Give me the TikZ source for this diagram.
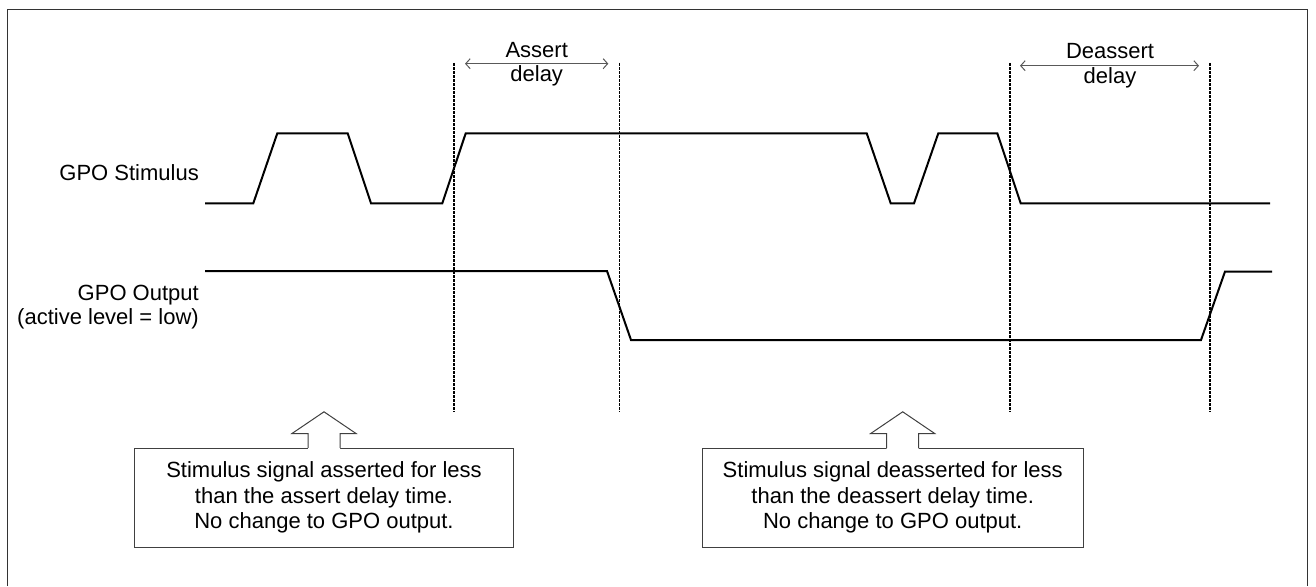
\documentclass[tikz,border=0pt]{standalone}
\usepackage{fontspec}
\setmainfont{Liberation Sans}
\usetikzlibrary{arrows.meta,calc}
\newcommand\calloutarrow[1]{%
  \path[fill=white] ($(#1)+(-16,1.2)$) -- ($(#1)+(-16,-14.3)$) -- ($(#1)+(-32,-14.3)$) -- ($(#1)+(0,-36)$) -- ($(#1)+(32,-14.3)$) -- ($(#1)+(16,-14.3)$) -- ($(#1)+(16,1.2)$) -- cycle;
  \draw[callout] ($(#1)+(-16,0)$) -- ($(#1)+(-16,-14.3)$) -- ($(#1)+(-32,-14.3)$) -- ($(#1)+(0,-36)$) -- ($(#1)+(32,-14.3)$) -- ($(#1)+(16,-14.3)$) -- ($(#1)+(16,0)$);}
\begin{document}
\begin{tikzpicture}[x=1pt,y=-1pt,
  sig/.style={line width=2pt, line join=miter},
  guide/.style={line width=1.2pt, dash pattern=on 3pt off 1pt},
  dim/.style={line width=1pt, draw=black!65, {Straight Barb[length=4.5pt,width=10pt]}-{Straight Barb[length=4.5pt,width=10pt]}},
  lbl/.style={font=\fontsize{22}{25.5}\selectfont, inner sep=0pt},
  note/.style={draw=black!75, line width=1pt, fill=white, minimum height=99pt, align=center, inner sep=0pt, font=\fontsize{22}{25.5}\selectfont},
  callout/.style={draw=black!75, line width=1pt, line join=miter}
]
\useasboundingbox (0,0) rectangle (1316,586);
% frame
\draw[black!80, line width=1.3pt] (7.3,586) -- (7.3,9.3) -- (1307.3,9.3) -- (1307.3,586);

% labels
\node[lbl, anchor=base east] (stimlbl) at (199,180) {GPO Stimulus};
\node[lbl, anchor=base east] (outlbl) at (199,300.7) {GPO Output};
\node[lbl, anchor=base east] (outlbl2) at (199,324.5) {(active level = low)};

% dashed guide lines
\foreach \n/\x in {g1/454, g2/619.3, g3/1010, g4/1210}{
  \coordinate (\n t) at (\x,63);
  \coordinate (\n b) at (\x,412);
  \draw[guide] (\n t) -- (\n b);
}

% delay dimensions
\coordinate (a1) at (465,63.7);
\coordinate (a2) at (608.3,63.7);
\draw[dim] (a1) -- (a2);
\node[lbl, anchor=base] (assertlbl) at (536.7,57.3) {Assert};
\node[lbl, anchor=base] (assertdl) at (536.7,81.7) {delay};
\coordinate (b1) at (1020,65.7);
\coordinate (b2) at (1199,65.7);
\draw[dim] (b1) -- (b2);
\node[lbl, anchor=base] (deassertlbl) at (1110,58.3) {Deassert};
\node[lbl, anchor=base] (deassertdl) at (1110,83.5) {delay};

% GPO stimulus waveform
\draw[sig] (205,203.3) -- (253.3,203.3) -- (277.3,133.3) -- (347.7,133.3) -- (371,203.3) -- (442.3,203.3) -- (465.7,133.3) -- (866.7,133.3) -- (890.7,203.3) -- (914,203.3) -- (938.3,133.3) -- (997.3,133.3) -- (1020.7,203.3) -- (1270,203.3);

% GPO output waveform
\draw[sig] (205,271) -- (607,271) -- (631,340) -- (1201,340) -- (1225,271.5) -- (1272,271.5);

% callout boxes
\node[note, minimum width=378.3pt] (boxA) at (324,497.8) {Stimulus signal asserted for less\\than the assert delay time.\\No change to GPO output.};
\node[note, minimum width=381.3pt] (boxB) at (892.7,497.8) {Stimulus signal deasserted for less\\than the deassert delay time.\\No change to GPO output.};
\coordinate (ca) at (boxA.north);
\coordinate (cb) at ($(boxB.north)+(10,0)$);
\calloutarrow{ca}
\calloutarrow{cb}
\end{tikzpicture}
\end{document}
